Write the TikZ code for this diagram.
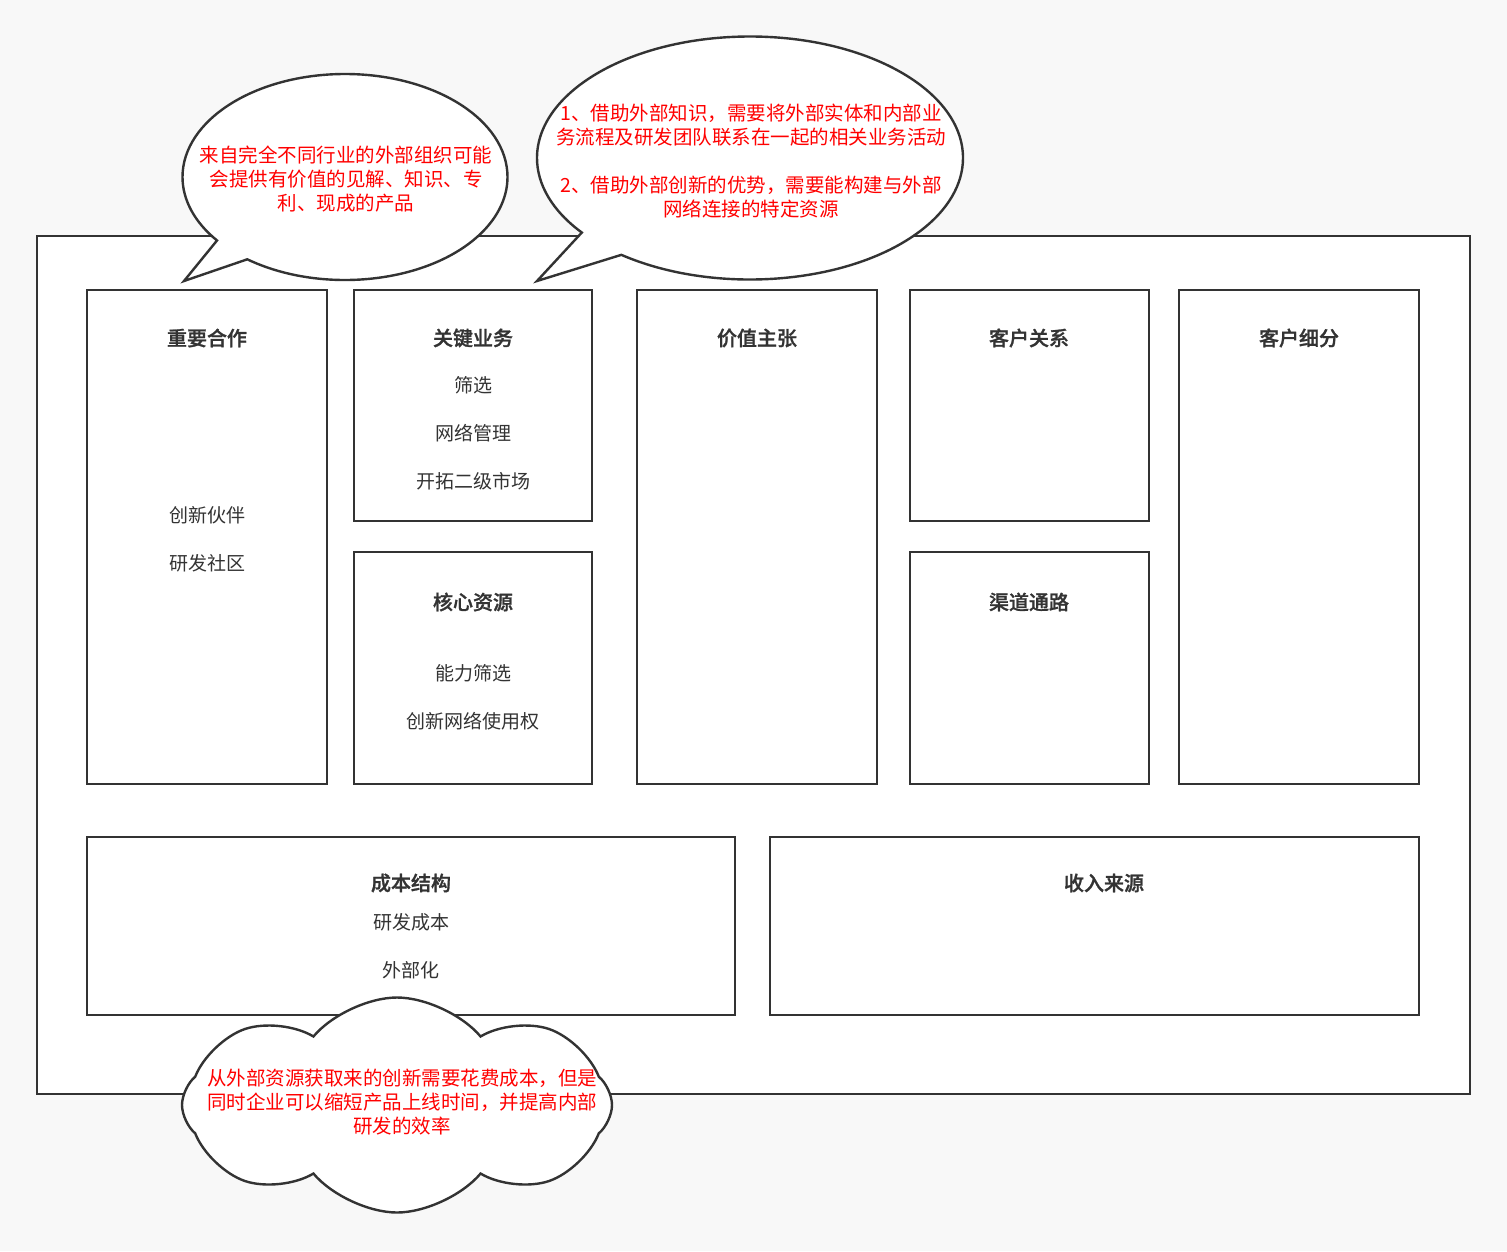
\documentclass[tikz,border=0pt]{standalone}
\usepackage{fontspec}
\setmainfont{Noto Sans CJK SC}[BoldFont={Noto Sans CJK SC Medium},BoldFeatures={FakeBold=1.2}]
\usetikzlibrary{positioning}
\usetikzlibrary{shapes.callouts}
\usetikzlibrary{shapes.symbols}

\definecolor{linecol}{HTML}{333333}
\definecolor{bgcol}{HTML}{F8F8F8}
\definecolor{notecol}{HTML}{FF0000}

\begin{document}
\begin{tikzpicture}[x=1pt,y=-1pt,
    block/.style={draw=linecol,line width=2.4pt,fill=white,inner sep=0pt},
    title/.style={text=linecol,font=\fontsize{20}{24}\selectfont\bfseries},
    item/.style={text=linecol,font=\fontsize{19}{24}\selectfont},
    note/.style={text=notecol,font=\fontsize{19.5}{24}\selectfont,align=center},
    bubble/.style={ellipse callout,draw=linecol,line width=2.4pt,fill=white,inner sep=0pt}]
  \fill[bgcol] (0,0) rectangle (1507,1251);
  \useasboundingbox (0,0) rectangle (1507,1251);

  % outer frame
  \node[block,minimum width=1433,minimum height=858] (canvas) at (753.5,665) {};

  % the nine blocks
  \node[block,minimum width=240,minimum height=494] (kp)   at (207,537)   {};
  \node[block,minimum width=238,minimum height=231] (ka)   at (473,405.5) {};
  \node[block,minimum width=238,minimum height=232] (kr)   at (473,668)   {};
  \node[block,minimum width=240,minimum height=494] (vp)   at (757,537)   {};
  \node[block,minimum width=239,minimum height=231] (cr)   at (1029.5,405.5) {};
  \node[block,minimum width=239,minimum height=232] (ch)   at (1029.5,668) {};
  \node[block,minimum width=240,minimum height=494] (cs)   at (1299,537)  {};
  \node[block,minimum width=648,minimum height=178] (cost) at (411,926)   {};
  \node[block,minimum width=649,minimum height=178] (rev)  at (1094.5,926) {};

  \node[title] (kp_t)   at (207,338)  {重要合作};
  \node[title] (ka_t)   at (473,338)  {关键业务};
  \node[title] (kr_t)   at (473,602)  {核心资源};
  \node[title] (vp_t)   at (757,338)  {价值主张};
  \node[title] (cr_t)   at (1029,338) {客户关系};
  \node[title] (ch_t)   at (1029,602) {渠道通路};
  \node[title] (cs_t)   at (1299,338) {客户细分};
  \node[title] (cost_t) at (411,883)  {成本结构};
  \node[title] (rev_t)  at (1104,883) {收入来源};

  \node[item] (kp_1)   at (207,515) {创新伙伴};
  \node[item] (kp_2)   at (207,563) {研发社区};
  \node[item] (ka_1)   at (473,385) {筛选};
  \node[item] (ka_2)   at (473,433) {网络管理};
  \node[item] (ka_3)   at (473,481) {开拓二级市场};
  \node[item] (kr_1)   at (473,673) {能力筛选};
  \node[item] (kr_2)   at (473,721) {创新网络使用权};
  \node[item] (cost_1) at (411,922) {研发成本};
  \node[item] (cost_2) at (411,970) {外部化};

  % notes
  \coordinate (tip_a) at (184,281);
  \coordinate (tip_b) at (537,281);
  \node[bubble,minimum width=325,minimum height=206,
      callout absolute pointer={(tip_a)}] (note_a) at (345,177) {};
  \node[bubble,minimum width=426,minimum height=243,
      callout absolute pointer={(tip_b)}] (note_b) at (750,158) {};
  \node[cloud,draw=linecol,line width=2.4pt,fill=white,
      cloud puffs=8,cloud puff arc=100,cloud ignores aspect,
      minimum width=430,minimum height=215] (note_c) at (397,1105) {};

  \node[note] (note_a_t) at (346,179)
    {来自完全不同行业的外部组织可能\\会提供有价值的见解、知识、专\\利、现成的产品};
  \node[note] (note_b_t) at (751,161)
    {1、借助外部知识，需要将外部实体和内部业\\务流程及研发团队联系在一起的相关业务活动\\[24pt]2、借助外部创新的优势，需要能构建与外部\\网络连接的特定资源};
  \node[note] (note_c_t) at (402,1102)
    {从外部资源获取来的创新需要花费成本，但是\\同时企业可以缩短产品上线时间，并提高内部\\研发的效率};
\end{tikzpicture}
\end{document}
